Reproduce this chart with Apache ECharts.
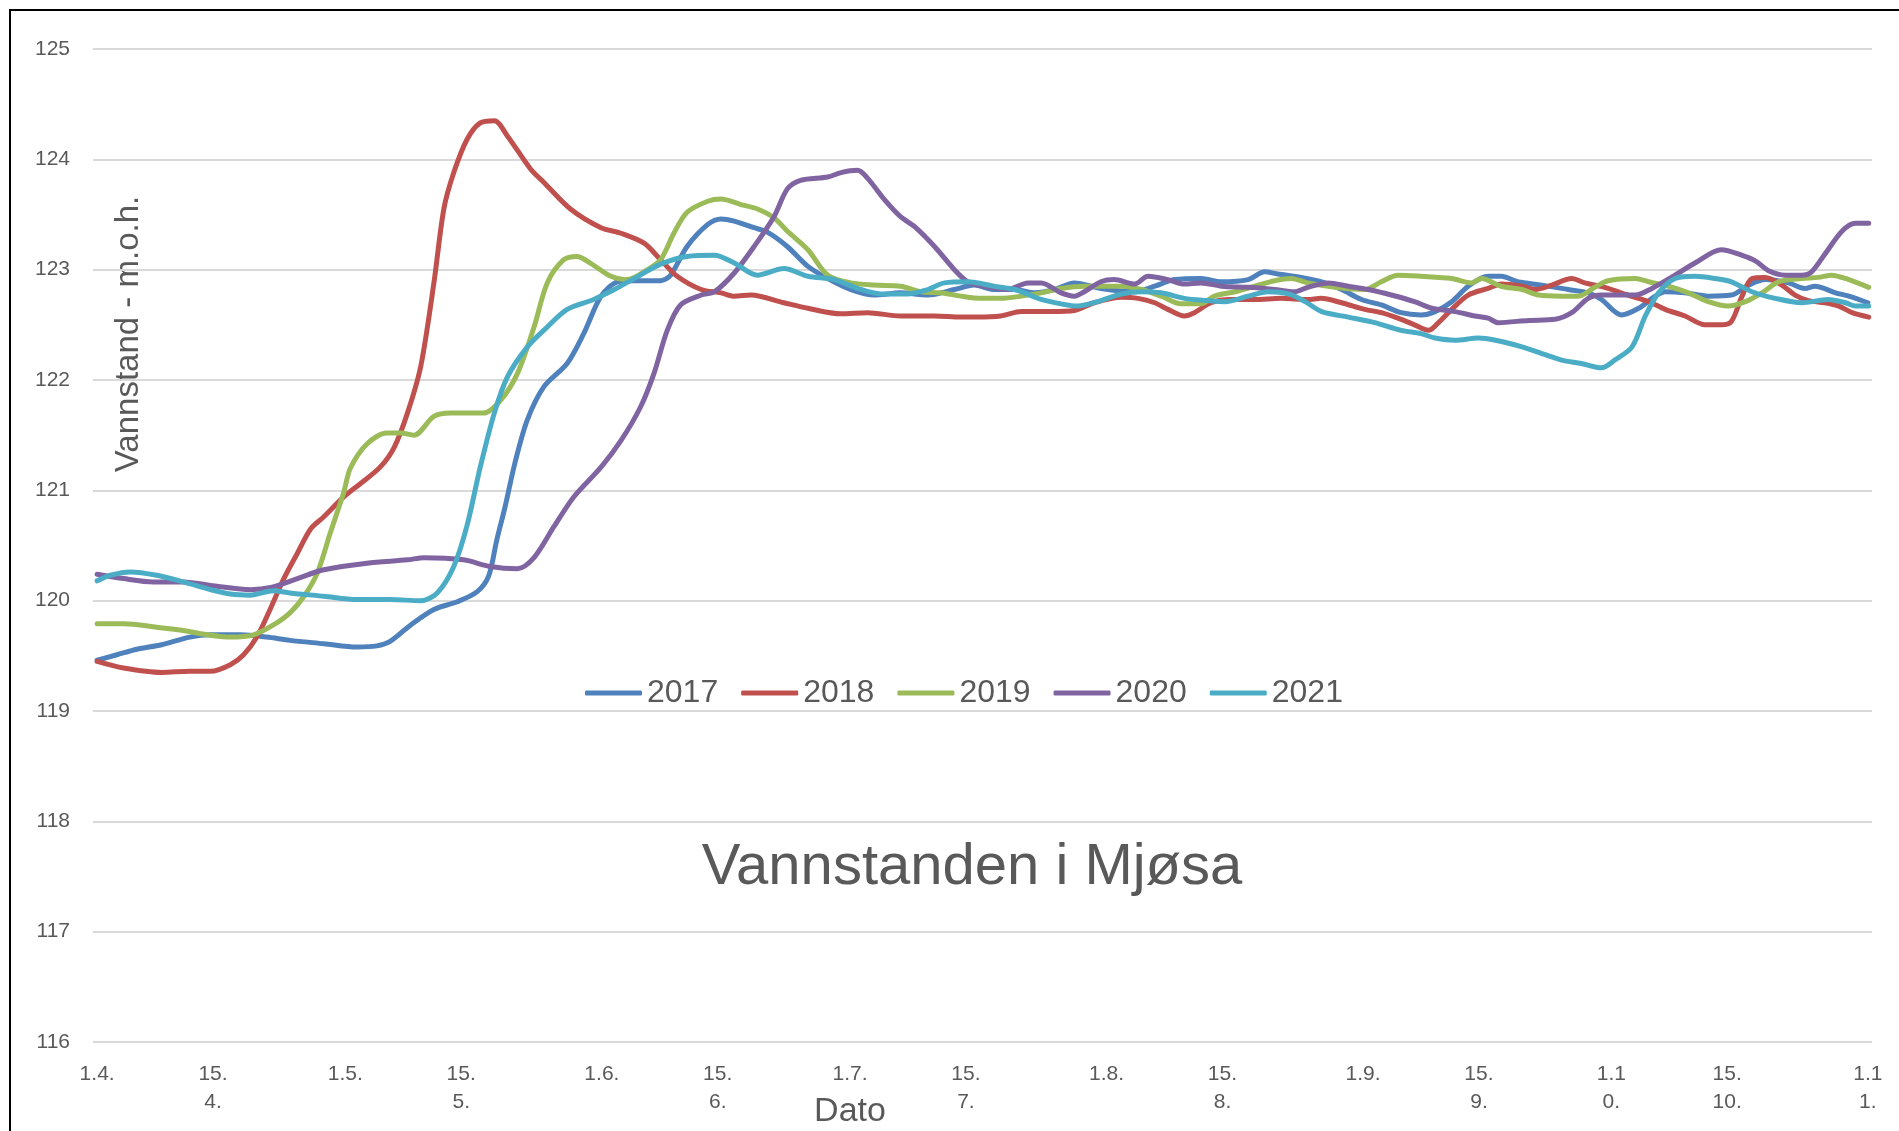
<!DOCTYPE html>
<html lang="no">

<head>
    <meta charset="utf-8">
    <title>Vannstanden i Mjøsa</title>
    <script src="https://cdn.jsdelivr.net/npm/echarts@6/dist/echarts.min.js"></script>
    <style>
        body { margin: 0; background: #fff; }
        #mjosa_chart { width: 1899px; height: 1131px; }
    </style>

    <script type="text/javascript">
        // dager etter 1. april, og lesta vannstand (m.o.h.)
        var days2017 = [0, 2.4, 4.8, 7.8, 11.2, 13.7, 17.3, 20.5, 23.3, 27.4,
            31.4, 33.8, 35.4, 37.9, 40.7, 43.5, 45.9, 47.3, 48.3, 49.3,
            50.5, 52.0, 54.0, 56.8, 58.8, 60.9, 62.9, 64.9, 68.1, 69.3,
            71.3, 73.8, 75.4, 77.0, 79.4, 81.0, 83.4, 85.9, 88.3, 91.1,
            93.9, 97.1, 100.4, 103.6, 106.0, 108.4, 110.9, 113.3, 115.7, 118.1,
            121.3, 125.4, 127.8, 130.2, 133.4, 135.9, 139.1, 141.1, 142.7, 145.5,
            148.0, 150.4, 152.8, 155.2, 157.6, 160.0, 161.7, 163.7, 165.7, 168.1,
            169.7, 171.7, 174.6, 177.8, 180.2, 181.8, 184.2, 186.3, 188.3, 189.5,
            191.9, 194.7, 197.5, 199.6, 201.6, 204.4, 206.4, 207.6, 210.1, 211.7,
            214.0];
        var level2017 = [119.46, 119.51, 119.56, 119.60, 119.67, 119.69, 119.69, 119.67, 119.64, 119.61,
            119.58, 119.59, 119.63, 119.78, 119.92, 119.99, 120.08, 120.22, 120.55, 120.85,
            121.25, 121.64, 121.94, 122.15, 122.42, 122.76, 122.89, 122.90, 122.90, 122.95,
            123.21, 123.41, 123.46, 123.44, 123.38, 123.34, 123.21, 123.03, 122.92, 122.82,
            122.77, 122.79, 122.77, 122.82, 122.86, 122.82, 122.82, 122.79, 122.82, 122.88,
            122.83, 122.80, 122.85, 122.91, 122.92, 122.89, 122.91, 122.98, 122.96, 122.93,
            122.89, 122.82, 122.73, 122.68, 122.61, 122.59, 122.62, 122.71, 122.85, 122.94,
            122.94, 122.89, 122.86, 122.82, 122.79, 122.73, 122.59, 122.65, 122.76, 122.80,
            122.79, 122.76, 122.77, 122.86, 122.91, 122.88, 122.83, 122.85, 122.79, 122.76,
            122.70];

        var days2018 = [0, 3.2, 7.8, 11.2, 13.7, 16.1, 17.7, 19.3, 20.9, 22.5,
            24.2, 25.8, 27.4, 29.8, 31.8, 34.2, 35.9, 37.5, 39.1, 40.7,
            41.9, 43.1, 44.7, 46.3, 48.0, 49.6, 52.4, 54.0, 57.2, 60.9,
            63.3, 66.1, 68.1, 70.1, 73.0, 75.4, 77.0, 79.0, 83.0, 85.9,
            89.9, 93.1, 97.1, 101.2, 104.4, 106.4, 109.2, 111.7, 115.3, 118.1,
            120.5, 123.8, 125.8, 127.8, 129.4, 131.4, 132.6, 134.6, 136.7, 139.9,
            143.1, 146.3, 147.9, 150.4, 153.2, 155.2, 157.6, 159.2, 160.9, 162.1,
            163.7, 165.7, 168.1, 169.7, 172.2, 173.8, 175.8, 178.2, 179.8, 182.2,
            185.0, 187.5, 189.5, 191.9, 194.3, 196.3, 197.5, 198.8, 200.0, 201.6,
            203.6, 205.2, 206.8, 208.8, 210.5, 212.1, 214.1];
        var level2018 = [119.45, 119.39, 119.35, 119.36, 119.36, 119.42, 119.51, 119.67, 119.92, 120.19,
            120.43, 120.65, 120.76, 120.94, 121.06, 121.21, 121.39, 121.70, 122.12, 122.88,
            123.55, 123.88, 124.18, 124.33, 124.35, 124.21, 123.91, 123.79, 123.55, 123.38,
            123.33, 123.24, 123.09, 122.94, 122.82, 122.79, 122.76, 122.77, 122.70, 122.65,
            122.60, 122.61, 122.58, 122.58, 122.57, 122.57, 122.58, 122.62, 122.62, 122.63,
            122.70, 122.75, 122.74, 122.70, 122.64, 122.58, 122.61, 122.70, 122.73, 122.73,
            122.74, 122.73, 122.74, 122.70, 122.64, 122.61, 122.55, 122.50, 122.45, 122.52,
            122.64, 122.77, 122.83, 122.87, 122.85, 122.82, 122.86, 122.92, 122.88, 122.84,
            122.77, 122.71, 122.64, 122.58, 122.50, 122.50, 122.53, 122.76, 122.92, 122.93,
            122.86, 122.77, 122.72, 122.70, 122.67, 122.61, 122.57];

        var days2019 = [0, 3.2, 7.2, 10.4, 12.5, 16.1, 18.9, 21.3, 23.3, 25.0,
            26.6, 28.2, 29.8, 30.6, 32.6, 35.0, 36.7, 38.3, 40.7, 42.7,
            46.7, 48.8, 50.8, 52.8, 54.4, 56.4, 58.0, 59.6, 62.1, 64.1,
            66.5, 68.1, 69.7, 71.3, 73.8, 75.4, 77.8, 79.8, 81.8, 83.4,
            85.9, 88.3, 91.1, 93.9, 97.1, 99.6, 102.0, 104.4, 106.8, 109.2,
            111.7, 114.1, 116.5, 119.3, 123.8, 126.2, 128.6, 131.0, 133.4, 135.0,
            137.5, 139.9, 142.3, 144.3, 146.3, 149.6, 153.2, 155.2, 157.2, 160.0,
            163.7, 166.1, 167.3, 169.7, 172.2, 174.2, 177.0, 179.0, 181.0, 182.6,
            185.9, 187.5, 189.9, 192.3, 194.7, 197.1, 199.2, 201.2, 203.2, 206.0,
            208.0, 209.6, 211.7, 214.1];
        var level2019 = [119.79, 119.79, 119.76, 119.73, 119.70, 119.67, 119.69, 119.78, 119.89, 120.04,
            120.25, 120.62, 120.98, 121.20, 121.42, 121.52, 121.52, 121.50, 121.67, 121.70,
            121.70, 121.82, 122.06, 122.48, 122.88, 123.09, 123.12, 123.06, 122.94, 122.91,
            123.00, 123.09, 123.33, 123.52, 123.62, 123.64, 123.59, 123.55, 123.47, 123.35,
            123.18, 122.95, 122.88, 122.86, 122.85, 122.80, 122.79, 122.76, 122.74, 122.74,
            122.76, 122.79, 122.83, 122.85, 122.85, 122.82, 122.76, 122.69, 122.69, 122.76,
            122.80, 122.85, 122.90, 122.92, 122.88, 122.84, 122.82, 122.89, 122.95, 122.94,
            122.92, 122.88, 122.92, 122.85, 122.82, 122.77, 122.76, 122.76, 122.84, 122.90,
            122.92, 122.89, 122.85, 122.79, 122.71, 122.67, 122.71, 122.79, 122.89, 122.92,
            122.93, 122.95, 122.91, 122.84];

        var days2020 = [0, 3.2, 6.8, 10.4, 14.5, 18.5, 21.0, 24.2, 27.4, 32.6,
            37.5, 39.5, 44.3, 47.5, 50.8, 52.8, 55.2, 57.6, 60.9, 63.3,
            65.7, 67.3, 68.9, 70.5, 73.0, 74.6, 77.0, 79.4, 81.8, 83.4,
            85.0, 88.3, 89.9, 91.9, 93.1, 95.1, 97.1, 98.8, 101.2, 103.6,
            105.2, 107.2, 110.0, 112.5, 114.1, 116.5, 118.1, 119.3, 121.3, 122.9,
            125.4, 127.0, 129.4, 131.4, 133.4, 135.9, 139.1, 142.3, 144.7, 146.3,
            148.8, 151.2, 153.6, 156.4, 159.2, 161.3, 164.1, 166.5, 168.1, 169.3,
            173.0, 176.2, 178.2, 180.2, 181.8, 185.9, 187.9, 190.7, 193.1, 196.3,
            198.8, 200.4, 202.0, 204.0, 206.0, 207.2, 208.8, 210.9, 212.5, 214.1];
        var level2020 = [120.24, 120.20, 120.17, 120.17, 120.13, 120.10, 120.12, 120.20, 120.28, 120.34,
            120.37, 120.39, 120.37, 120.31, 120.29, 120.39, 120.67, 120.94, 121.21, 121.45,
            121.76, 122.06, 122.45, 122.68, 122.77, 122.80, 122.97, 123.21, 123.48, 123.73,
            123.81, 123.84, 123.88, 123.90, 123.83, 123.64, 123.48, 123.39, 123.21, 123.00,
            122.89, 122.85, 122.82, 122.88, 122.88, 122.79, 122.76, 122.80, 122.89, 122.91,
            122.87, 122.94, 122.91, 122.87, 122.88, 122.85, 122.84, 122.82, 122.80, 122.84,
            122.88, 122.85, 122.82, 122.77, 122.71, 122.65, 122.62, 122.58, 122.56, 122.52,
            122.54, 122.55, 122.61, 122.74, 122.77, 122.77, 122.83, 122.95, 123.06, 123.18,
            123.13, 123.08, 122.99, 122.95, 122.95, 122.98, 123.14, 123.35, 123.42, 123.42];

        var days2021 = [0, 1.6, 4.0, 7.2, 10.4, 13.7, 16.1, 18.5, 21.3, 23.3,
            27.4, 31.4, 35.4, 39.1, 41.1, 43.1, 44.7, 46.3, 48.0, 49.6,
            52.0, 54.4, 56.8, 60.0, 62.5, 64.9, 68.1, 71.3, 74.6, 77.0,
            79.8, 83.0, 85.9, 89.1, 91.9, 94.7, 97.9, 100.4, 102.4, 105.2,
            108.4, 110.9, 114.1, 116.5, 118.5, 121.3, 123.8, 126.2, 128.6, 131.4,
            134.2, 136.3, 139.1, 141.5, 144.0, 146.0, 148.0, 151.2, 154.4, 157.6,
            160.0, 161.7, 164.1, 166.9, 169.0, 172.2, 174.6, 177.0, 179.4, 181.8,
            183.4, 185.5, 187.1, 188.7, 190.7, 193.1, 195.5, 197.5, 200.0, 202.8,
            206.0, 209.2, 211.3, 212.5, 214.1];
        var level2021 = [120.18, 120.23, 120.26, 120.23, 120.17, 120.10, 120.06, 120.05, 120.09, 120.07,
            120.04, 120.01, 120.01, 120.00, 120.07, 120.31, 120.68, 121.21, 121.70, 122.03,
            122.30, 122.48, 122.64, 122.73, 122.82, 122.92, 123.05, 123.12, 123.13, 123.06,
            122.95, 123.01, 122.94, 122.91, 122.83, 122.78, 122.78, 122.82, 122.88, 122.89,
            122.85, 122.82, 122.73, 122.69, 122.67, 122.72, 122.78, 122.80, 122.79, 122.74,
            122.72, 122.71, 122.76, 122.80, 122.78, 122.71, 122.62, 122.57, 122.52, 122.45,
            122.42, 122.38, 122.36, 122.38, 122.36, 122.30, 122.24, 122.18, 122.15, 122.11,
            122.18, 122.30, 122.58, 122.79, 122.92, 122.94, 122.92, 122.89, 122.80, 122.74,
            122.70, 122.73, 122.70, 122.67, 122.67];

        var seriesNames = ['2017', '2018', '2019', '2020', '2021'];
        var tickDays = [0, 14, 30, 44, 61, 75, 91, 105, 122, 136, 153, 167, 183, 197, 214];
        var tickLabels = ['1.4.', '15.\n4.', '1.5.', '15.\n5.', '1.6.', '15.\n6.', '1.7.', '15.\n7.',
            '1.8.', '15.\n8.', '1.9.', '15.\n9.', '1.1\n0.', '15.\n10.', '1.1\n1.'];

        var textColor = '#595959';
        var fontName = '"Liberation Sans", Arial, sans-serif';

        function pairs(days, levels) {
            var out = [];
            for (var i = 0; i < days.length; i++) {
                out.push([days[i], levels[i]]);
            }
            return out;
        }

        function init_mjosa_chart(div_id) {
            var myChart = echarts.init(document.getElementById(div_id));

            var colors = ['#4F81BD', '#C0504D', '#9BBB59', '#8064A2', '#4BACC6'];
            var allData = [
                pairs(days2017, level2017),
                pairs(days2018, level2018),
                pairs(days2019, level2019),
                pairs(days2020, level2020),
                pairs(days2021, level2021)
            ];

            var series = [];
            for (var s = 0; s < seriesNames.length; s++) {
                series.push({
                    name: seriesNames[s],
                    type: 'line',
                    data: allData[s],
                    showSymbol: false,
                    smooth: 0.3,
                    color: colors[s],
                    lineStyle: {width: 5, color: colors[s], cap: 'round'}
                });
            }

            var option = {
                animation: false,
                textStyle: {fontFamily: fontName},
                legend: {
                    data: seriesNames,
                    left: 585,
                    top: 677,
                    padding: 0,
                    icon: 'roundRect',
                    itemWidth: 57,
                    itemHeight: 5,
                    itemGap: 23,
                    textStyle: {fontSize: 32, color: textColor, fontFamily: fontName}
                },
                grid: {
                    left: 93,
                    right: 27,
                    top: 49,
                    bottom: 89
                },
                xAxis: {
                    type: 'value',
                    min: -0.5,
                    max: 214.5,
                    axisLine: {show: false},
                    axisTick: {show: false},
                    splitLine: {show: false},
                    axisLabel: {
                        customValues: tickDays,
                        formatter: function (val) {
                            var idx = tickDays.indexOf(val);
                            return idx >= 0 ? tickLabels[idx] : '';
                        },
                        color: textColor,
                        fontSize: 21,
                        lineHeight: 28,
                        margin: 18,
                        fontFamily: fontName
                    }
                },
                yAxis: {
                    type: 'value',
                    min: 116,
                    max: 125,
                    interval: 1,
                    axisLine: {show: false},
                    axisTick: {show: false},
                    splitLine: {lineStyle: {color: '#d9d9d9', width: 2}},
                    axisLabel: {color: textColor, fontSize: 21, margin: 23, fontFamily: fontName}
                },
                graphic: [
                    // ramme oppe og til venstre
                    {type: 'line', shape: {x1: 9, y1: 10, x2: 1899, y2: 10}, style: {stroke: '#000', lineWidth: 2}},
                    {type: 'line', shape: {x1: 10, y1: 9, x2: 10, y2: 1131}, style: {stroke: '#000', lineWidth: 2}},
                    {
                        type: 'text', x: 129, y: 334, rotation: Math.PI / 2,
                        style: {text: 'Vannstand - m.o.h.', font: '33px ' + fontName, fill: textColor,
                            align: 'center', verticalAlign: 'middle'}
                    },
                    {
                        type: 'text', x: 972, y: 868,
                        style: {text: 'Vannstanden i Mjøsa', font: '58px ' + fontName, fill: textColor,
                            align: 'center', verticalAlign: 'middle'}
                    },
                    {
                        type: 'text', x: 850, y: 1112,
                        style: {text: 'Dato', font: '34px ' + fontName, fill: textColor,
                            align: 'center', verticalAlign: 'middle'}
                    }
                ],
                series: series
            };

            myChart.setOption(option);
            return myChart;
        }

        window.onload = function () {
            init_mjosa_chart('mjosa_chart');
        };
    </script>
</head>

<body>
<div id="mjosa_chart"></div>
</body>

</html>
